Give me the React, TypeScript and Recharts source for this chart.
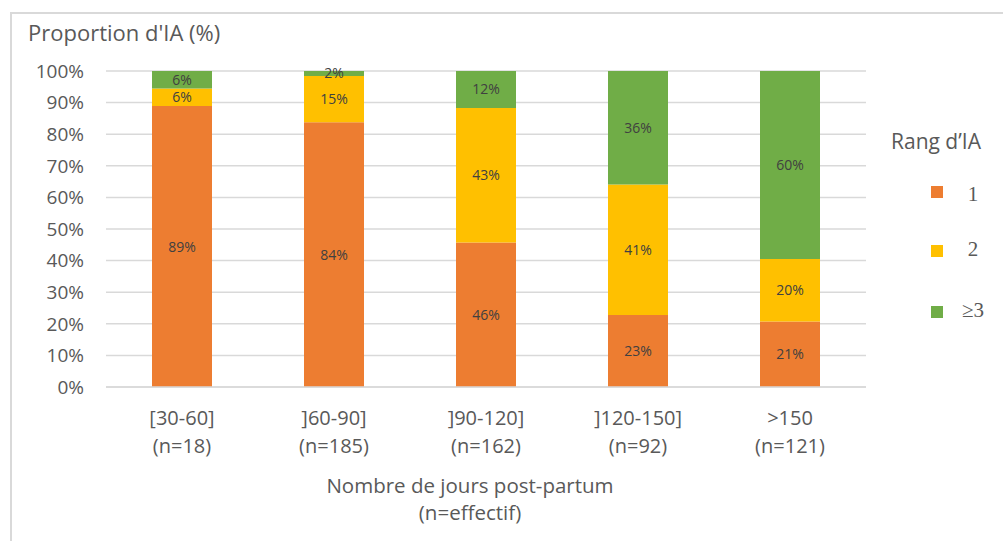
import React from "react";
import { BarChart, Bar, XAxis, YAxis, CartesianGrid, LabelList } from "recharts";

const ranges = ["[30-60]", "]60-90]", "]90-120]", "]120-150]", ">150"];
const counts = ["(n=18)", "(n=185)", "(n=162)", "(n=92)", "(n=121)"];
const rang1 = [88.9, 83.8, 45.7, 22.8, 20.7];
const rang2 = [5.6, 14.6, 42.6, 41.3, 19.8];
const rang3 = [5.6, 1.6, 11.7, 35.9, 59.5];
const yTicks = [0, 10, 20, 30, 40, 50, 60, 70, 80, 90, 100];
const seriesNames = ["1", "2", "≥3"];
const seriesColors = ["#ED7D31", "#FFC000", "#70AD47"];
const xTitleLines = ["Nombre de jours post-partum", "(n=effectif)"];

const data = ranges.map((r, i) => ({
  name: r,
  n: counts[i],
  r1: rang1[i],
  r2: rang2[i],
  r3: rang3[i],
}));

const FONT = "'Open Sans', sans-serif";
const GREY = "#595959";
const legendTextTops = [184, 239, 300];
const legendMarkerTops = [186, 245, 306];
const xTitleTops = [475, 502];

const XTick = (props: any) => {
  const { x, y, payload, index } = props;
  return (
    <g>
      <text x={x} y={y + 38} textAnchor="middle" fill={GREY} fontSize={20} fontFamily={FONT}>
        {payload.value}
      </text>
      <text x={x} y={y + 66} textAnchor="middle" fill={GREY} fontSize={20} fontFamily={FONT}>
        {counts[index]}
      </text>
    </g>
  );
};

const fmt = (v: any) => `${Math.round(Number(v))}%`;

export default function App() {
  return (
    <div style={{ position: "absolute", left: 0, top: 0, width: 1003, height: 541, background: "#fff", overflow: "hidden" }}>
      <div
        style={{
          position: "absolute",
          left: 10,
          top: 12,
          width: 1010,
          height: 600,
          borderTop: "2px solid #d9d9d9",
          borderLeft: "2px solid #d9d9d9",
        }}
      />
      <div style={{ position: "absolute", left: 28, top: 17, fontSize: 22, color: GREY, fontFamily: FONT, whiteSpace: "nowrap" }}>
        Proportion d'IA (%)
      </div>
      {xTitleLines.map((t, i) => (
        <div
          key={t}
          style={{
            position: "absolute",
            left: 270,
            width: 400,
            top: xTitleTops[i],
            fontSize: 20.5,
            lineHeight: "20px",
            color: GREY,
            fontFamily: FONT,
            textAlign: "center",
            whiteSpace: "nowrap",
          }}
        >
          {t}
        </div>
      ))}
      <div style={{ position: "absolute", left: 0, top: 0 }}>
        <BarChart
          width={1003}
          height={541}
          data={data}
          margin={{ top: 71, right: 137, bottom: 0, left: 0 }}
          barSize={60}
        >
          <CartesianGrid vertical={false} stroke="#d9d9d9" strokeWidth={1.5} />
          <XAxis
            dataKey="name"
            height={154}
            axisLine={{ stroke: "#d9d9d9", strokeWidth: 1.5 }}
            tickLine={false}
            tickSize={0}
            tickMargin={0}
            tick={<XTick />}
            interval={0}
          />
          <YAxis
            width={106}
            domain={[0, 100]}
            ticks={yTicks}
            tickFormatter={(v: number) => `${v}%`}
            axisLine={false}
            tickLine={false}
            tickSize={0}
            tickMargin={22}
            tick={{ fill: GREY, fontSize: 19, fontFamily: FONT }}
            allowDataOverflow
          />
          <Bar dataKey="r1" name={seriesNames[0]} stackId="a" fill={seriesColors[0]} isAnimationActive={false}>
            <LabelList dataKey="r1" position="center" formatter={fmt} fill="#404040" fontSize={14} fontFamily={FONT} />
          </Bar>
          <Bar dataKey="r2" name={seriesNames[1]} stackId="a" fill={seriesColors[1]} isAnimationActive={false}>
            <LabelList dataKey="r2" position="center" formatter={fmt} fill="#404040" fontSize={14} fontFamily={FONT} />
          </Bar>
          <Bar dataKey="r3" name={seriesNames[2]} stackId="a" fill={seriesColors[2]} isAnimationActive={false}>
            <LabelList dataKey="r3" position="center" formatter={fmt} fill="#404040" fontSize={14} fontFamily={FONT} />
          </Bar>
        </BarChart>
      </div>
      <div style={{ position: "absolute", left: 891, top: 127, fontSize: 21, color: GREY, fontFamily: FONT, whiteSpace: "nowrap" }}>
        Rang d’IA
      </div>
      {seriesNames.map((s, i) => (
        <React.Fragment key={s}>
          <div
            style={{
              position: "absolute",
              left: 931,
              top: legendMarkerTops[i],
              width: 12,
              height: 12,
              background: seriesColors[i],
            }}
          />
          <div
            style={{
              position: "absolute",
              left: 952,
              width: 42,
              textAlign: "center",
              top: legendTextTops[i],
              fontSize: 21,
              lineHeight: "21px",
              fontFamily: "'Liberation Serif', 'DejaVu Serif', serif",
              color: GREY,
            }}
          >
            {s}
          </div>
        </React.Fragment>
      ))}
    </div>
  );
}
